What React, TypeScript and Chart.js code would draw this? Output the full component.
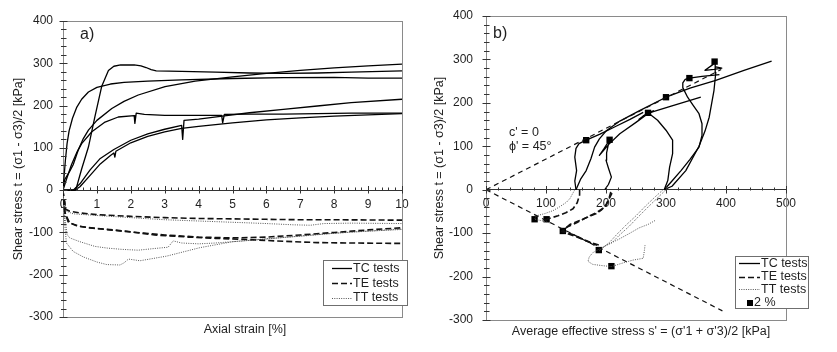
import React, { useEffect, useRef } from 'react';
import { Chart, registerables } from 'chart.js';

Chart.register(...registerables);

type Pt = [number, number];

const FAMILY = '"Liberation Sans", Arial, Helvetica, sans-serif';
const INK = '#1f1f1f';
const FRAME = '#8a8a8a';
const AXIS = '#333333';

// ---------------- a) shear stress vs axial strain ----------------
// TC tests (solid)
const tcFast: Pt[] = [[0,0],[0.03,30],[0.07,70],[0.12,110],[0.18,140],[0.28,170],[0.4,195],[0.55,215],[0.75,232],[1.0,243],[1.4,251],[1.8,255],[2.5,258],[3.5,261],[5,264],[6.5,266],[8,266.5],[9,265],[10,265]];
const tcPeak: Pt[] = [[0,0],[0.35,0],[0.4,7],[0.55,50],[0.75,102],[0.94,173],[1.14,245],[1.34,283],[1.5,293],[1.7,296],[2.1,296],[2.3,294],[2.45,290],[2.6,285],[2.75,282],[3.5,281],[4.5,279],[5.5,277],[6.5,276],[7.5,277],[8.5,279],[10,282]];
const tcRise: Pt[] = [[0,0],[0.05,25],[0.2,45],[0.3,60],[0.45,95],[0.6,122],[0.75,142],[1.0,165],[1.44,193],[1.8,210],[2.22,225],[3.01,245],[3.9,258],[5,268],[6,276],[7,283],[8,289],[9,294],[10,298]];
const tcPlateau: Pt[] = [[0,0],[0.1,25],[0.25,60],[0.4,88],[0.55,110],[0.85,138],[1.24,161],[1.63,173],[2.1,176],[2.12,158],[2.16,182],[2.4,179],[3.0,177],[3.5,177],[4.2,177],[4.68,177],[4.71,159],[4.76,179],[5.5,180],[6.5,180],[7.5,181],[8.5,182],[10,182]];
const tcLowA: Pt[] = [[0,0],[0.35,0],[0.5,8],[0.8,35],[1.1,62],[1.4,82],[1.5,88],[1.53,78],[1.56,92],[2.0,112],[2.5,127],[3.0,138],[3.5,146],[4.0,151],[5,159],[6,166],[7,171],[8,175],[9,178],[10,181]];
const tcLowB: Pt[] = [[0,0],[0.3,0],[0.5,15],[0.8,48],[1.1,75],[1.5,96],[2.0,118],[2.5,133],[3.0,144],[3.5,153],[3.53,120],[3.57,165],[4.0,168],[4.7,175],[5.5,183],[6.5,191],[7.5,199],[8.5,207],[10,215]];
// TE tests (dashed)
const teA1: Pt[] = [[0,0],[0.03,-30],[0.08,-45],[0.2,-50],[0.5,-54],[1,-58],[2,-62],[3,-65],[4,-67],[5,-68],[6,-69],[7,-70],[8,-70],[9,-70.5],[10,-71]];
const teA2: Pt[] = [[0,0],[0.05,-50],[0.15,-75],[0.4,-84],[0.75,-89],[1.2,-92],[1.75,-96],[2.7,-106],[3.7,-111],[4.5,-114],[5.5,-117],[6.5,-121],[7.5,-124],[8.5,-125],[10,-126]];
const teA3: Pt[] = [[0,0],[0.06,-55],[0.2,-78],[0.5,-86],[1,-91],[2,-99],[3,-106],[4,-111],[5,-113],[6,-111],[7,-106],[8,-100],[9,-94],[10,-89]];
// TT tests (dotted)
const ttA1: Pt[] = [[0,0],[0.03,-35],[0.1,-50],[0.3,-56],[1,-60],[2,-65],[3,-70],[4,-73],[5,-76],[6,-79],[6.8,-82],[7.3,-83],[7.7,-79],[8.5,-78],[10,-79]];
const ttA2: Pt[] = [[0,0],[0.05,-60],[0.12,-105],[0.2,-113],[0.5,-122],[0.94,-133],[1.3,-137],[1.73,-140],[2.22,-142],[2.7,-138],[3.1,-135],[3.25,-120],[3.5,-125],[4,-127],[4.5,-125],[5.5,-119],[6.5,-112],[7.5,-105],[8.5,-99],[10,-93]];
const ttA3: Pt[] = [[0,0],[0.05,-80],[0.1,-125],[0.3,-145],[0.6,-158],[1.0,-170],[1.29,-176],[1.68,-177],[1.8,-172],[1.93,-163],[2.27,-167],[3.06,-156],[4.04,-136],[5,-122],[6,-115],[7,-109],[8,-102],[9,-97],[10,-92]];

// ---------------- b) stress paths t vs s' ----------------
const envUpper: Pt[] = [[0,0],[392,277]];
const envLower: Pt[] = [[0,0],[394,-279]];
const pathTC1: Pt[] = [[297,0],[310,20],[325,44],[340,70],[355,98],[360,125],[360,152],[355,175],[345,195],[336,213],[328,235],[328,246],[332,254],[339,257],[360,261],[389,265]];
const pathTC2: Pt[] = [[297,0],[310,8],[333,44],[355,100],[365,135],[372,167],[380,229],[383,270],[382,295],[378,288],[365,275],[380,277],[393,280],[383,283]];
const pathTC3: Pt[] = [[150,0],[158,25],[167,44],[175,72],[181,98],[189,117],[200,135],[223,158],[256,182],[300,213],[340,234],[383,252],[430,275],[476,296]];
const pathTC4: Pt[] = [[297,0],[303,21],[306,52],[311,83],[311,114],[300,137],[286,160],[270,177],[255,162],[270,178],[278,181],[262,170],[280,182]];
const pathTC5: Pt[] = [[150,0],[148,20],[151,44],[148,75],[150,95],[155,106],[167,114],[190,128],[215,145],[240,162],[262,178]];
const pathTC6: Pt[] = [[198,0],[204,12],[209,29],[204,50],[200,68],[201,85],[203,98],[206,115],[197,95],[189,79],[205,105],[223,129],[250,155],[272,177],[310,193],[358,213]];
const pathTE1: Pt[] = [[156,0],[156,-12],[152,-30],[145,-44],[133,-53],[120,-60],[101,-68],[95,-69]];
const pathTE2: Pt[] = [[208,-5],[205,-20],[200,-36],[192,-47],[184,-55],[170,-63],[156,-71],[140,-80],[128,-95],[150,-106],[170,-120],[185,-128]];
const pathTE3: Pt[] = [[210,-8],[198,-40],[185,-52],[170,-62],[151,-76],[135,-86],[126,-96],[150,-108],[175,-122],[190,-128]];
const pathTT1: Pt[] = [[148,0],[140,-20],[134,-29],[122,-40],[112,-48],[98,-55],[84,-60],[81,-68],[95,-72],[110,-78]];
const pathTT2: Pt[] = [[297,2],[283,-15],[267,-36],[250,-60],[233,-82],[220,-100],[206,-121],[189,-140],[200,-128],[220,-115],[240,-100],[255,-88],[270,-80],[283,-70]];
const pathTT3: Pt[] = [[300,0],[285,-20],[270,-40],[252,-65],[238,-85],[222,-105],[210,-122],[195,-132],[178,-145],[172,-155],[170,-165],[178,-172],[195,-175],[209,-177],[225,-170],[245,-162],[262,-158],[264,-140],[265,-128]];
const squares2pct: Pt[] = [[167,114],[206,115],[270,177],[300,213],[339,257],[381,295],[81,-68],[101,-68],[128,-95],[188,-139],[209,-176]];

const styleOf: Record<string, any> = {
  tc: { borderColor: '#000000', borderWidth: 1.3, borderDash: [] },
  te: { borderColor: '#111111', borderWidth: 1.6, borderDash: [6, 3] },
  tt: { borderColor: '#555555', borderWidth: 1, borderDash: [1, 1.3] },
  env: { borderColor: '#111111', borderWidth: 1.2, borderDash: [5, 4] },
};

function lineDs(label: string, pts: Pt[], kind: string) {
  return {
    label,
    data: pts.map(([x, y]) => ({ x, y })),
    showLine: true,
    pointRadius: 0,
    pointHoverRadius: 0,
    fill: false,
    tension: 0,
    borderJoinStyle: 'round',
    ...styleOf[kind],
  };
}

function ticksBetween(a: number, b: number, step: number) {
  const out: number[] = [];
  const n = Math.round((b - a) / step);
  for (let i = 0; i <= n; i++) out.push(+(a + i * step).toFixed(6));
  return out;
}

const isMultiple = (v: number, m: number) => Math.abs(v / m - Math.round(v / m)) < 1e-6;

interface Row { label: string; kind: string; y: number }
interface DecorSpec {
  xMinor: number; xMajor: number; yMinor: number; yMajor: number;
  legend: { x: number; y: number; w: number; h: number; lx0: number; lx1: number; tx: number; rows: Row[] };
  texts: { t: string; x: number; y: number; size: number; align?: CanvasTextAlign }[];
}

function makeDecor(spec: DecorSpec) {
  return {
    id: 'decor',
    beforeDatasetsDraw(chart: any) {
      const { ctx, chartArea: ca } = chart;
      ctx.save();
      ctx.strokeStyle = FRAME;
      ctx.lineWidth = 1;
      ctx.strokeRect(Math.round(ca.left) + 0.5, Math.round(ca.top) + 0.5, Math.round(ca.right - ca.left), Math.round(ca.bottom - ca.top));
      ctx.restore();
    },
    afterDraw(chart: any) {
      const { ctx, chartArea: ca } = chart;
      const xs = chart.scales.x;
      const ys = chart.scales.y;
      ctx.save();
      // tick marks
      ctx.strokeStyle = AXIS;
      ctx.lineWidth = 1;
      ctx.setLineDash([]);
      ctx.beginPath();
      const ax = Math.round(ca.left) + 0.5;
      for (const v of ticksBetween(ys.min, ys.max, spec.yMinor)) {
        const py = Math.round(ys.getPixelForValue(v)) + 0.5;
        const major = isMultiple(v, spec.yMajor);
        ctx.moveTo(ax - (major ? 4 : 2.5), py);
        ctx.lineTo(ax + (major ? 4 : 3), py);
      }
      const ay = Math.round(ys.getPixelForValue(0)) + 0.5;
      for (const v of ticksBetween(xs.min, xs.max, spec.xMinor)) {
        const px = Math.round(xs.getPixelForValue(v)) + 0.5;
        const major = isMultiple(v, spec.xMajor);
        ctx.moveTo(px, ay - (major ? 4.5 : 3));
        ctx.lineTo(px, ay + (major ? 3 : 0));
      }
      ctx.stroke();

      // legend
      const L = spec.legend;
      ctx.fillStyle = '#ffffff';
      ctx.fillRect(L.x, L.y, L.w, L.h);
      ctx.strokeStyle = '#6f6f6f';
      ctx.strokeRect(L.x + 0.5, L.y + 0.5, L.w, L.h);
      ctx.font = `12.5px ${FAMILY}`;
      ctx.textBaseline = 'middle';
      ctx.textAlign = 'left';
      for (const r of L.rows) {
        if (r.kind === 'square') {
          ctx.fillStyle = '#000';
          ctx.fillRect(Math.round((L.lx0 + L.lx1) / 2) - 3, Math.round(r.y) - 3, 6, 6);
          ctx.fillStyle = INK;
          ctx.fillText(r.label, L.tx - 7, r.y);
          continue;
        }
        const st = styleOf[r.kind];
        ctx.strokeStyle = st.borderColor;
        ctx.lineWidth = st.borderWidth;
        ctx.setLineDash(st.borderDash);
        ctx.beginPath();
        ctx.moveTo(L.lx0, Math.round(r.y) + 0.5);
        ctx.lineTo(L.lx1, Math.round(r.y) + 0.5);
        ctx.stroke();
        ctx.setLineDash([]);
        ctx.fillStyle = INK;
        ctx.fillText(r.label, L.tx, r.y);
      }

      // free texts
      for (const t of spec.texts) {
        ctx.font = `${t.size}px ${FAMILY}`;
        ctx.fillStyle = INK;
        ctx.textAlign = t.align || 'left';
        ctx.textBaseline = 'middle';
        ctx.fillText(t.t, t.x, t.y);
      }
      ctx.restore();
    },
  };
}

function makeConfig(opts: {
  datasets: any[]; xMin: number; xMax: number; xStep: number; yWidth: number;
  padding: any; yTitlePad: number; yLabelPad: number; decor: DecorSpec;
}) {
  const tickFont = { family: FAMILY, size: 12 };
  return {
    type: 'scatter' as const,
    data: { datasets: opts.datasets },
    options: {
      animation: false as const,
      responsive: false,
      devicePixelRatio: 1,
      events: [],
      layout: { padding: opts.padding },
      scales: {
        x: {
          type: 'linear' as const,
          min: opts.xMin,
          max: opts.xMax,
          position: { y: 0 },
          ticks: { stepSize: opts.xStep, autoSkip: false, maxRotation: 0, font: tickFont, color: INK, padding: 3 },
          grid: { display: false, tickLength: 4 },
          border: { display: true, color: AXIS, width: 1 },
        },
        y: {
          type: 'linear' as const,
          min: -300,
          max: 400,
          position: 'left' as const,
          afterFit: (s: any) => { s.width = opts.yWidth; },
          ticks: {
            stepSize: 20,
            autoSkip: false,
            font: tickFont,
            color: INK,
            padding: opts.yLabelPad,
            callback: (v: any) => (isMultiple(Number(v), 100) ? String(v) : ''),
          },
          grid: { display: false, tickLength: 6 },
          border: { display: true, color: AXIS, width: 1 },
          title: {
            display: true,
            text: 'Shear stress t = (σ1 - σ3)/2 [kPa]',
            font: { family: FAMILY, size: 12.5 },
            color: INK,
            padding: { top: opts.yTitlePad, bottom: 0 },
          },
        },
      },
      plugins: { legend: { display: false }, tooltip: { enabled: false } },
    },
    plugins: [makeDecor(opts.decor)],
  };
}

function configA() {
  const datasets = [
    lineDs('TC tests', tcFast, 'tc'),
    lineDs('TC tests', tcPeak, 'tc'),
    lineDs('TC tests', tcRise, 'tc'),
    lineDs('TC tests', tcPlateau, 'tc'),
    lineDs('TC tests', tcLowA, 'tc'),
    lineDs('TC tests', tcLowB, 'tc'),
    lineDs('TE tests', teA1, 'te'),
    lineDs('TE tests', teA2, 'te'),
    lineDs('TE tests', teA3, 'te'),
    lineDs('TT tests', ttA1, 'tt'),
    lineDs('TT tests', ttA2, 'tt'),
    lineDs('TT tests', ttA3, 'tt'),
  ];
  return makeConfig({
    datasets, xMin: 0, xMax: 10, xStep: 1, yWidth: 63,
    padding: { left: 0, right: 18, top: 21, bottom: 35 },
    yTitlePad: 11, yLabelPad: 4,
    decor: {
      xMinor: 0.2, xMajor: 1, yMinor: 20, yMajor: 100,
      legend: {
        x: 323, y: 260, w: 84, h: 45, lx0: 332, lx1: 352, tx: 353,
        rows: [
          { label: 'TC tests', kind: 'tc', y: 268.3 },
          { label: 'TE tests', kind: 'te', y: 283.3 },
          { label: 'TT tests', kind: 'tt', y: 297.7 },
        ],
      },
      texts: [
        { t: 'a)', x: 80, y: 35, size: 16 },
        { t: 'Axial strain [%]', x: 245, y: 330, size: 12.5, align: 'center' },
      ],
    },
  });
}

function configB() {
  const datasets = [
    lineDs('c\' = 0, ϕ\' = 45°', envUpper, 'env'),
    lineDs('c\' = 0, ϕ\' = 45°', envLower, 'env'),
    lineDs('TC tests', pathTC1, 'tc'),
    lineDs('TC tests', pathTC2, 'tc'),
    lineDs('TC tests', pathTC3, 'tc'),
    lineDs('TC tests', pathTC4, 'tc'),
    lineDs('TC tests', pathTC5, 'tc'),
    lineDs('TC tests', pathTC6, 'tc'),
    lineDs('TE tests', pathTE1, 'te'),
    lineDs('TE tests', pathTE2, 'te'),
    lineDs('TE tests', pathTE3, 'te'),
    lineDs('TT tests', pathTT1, 'tt'),
    lineDs('TT tests', pathTT2, 'tt'),
    lineDs('TT tests', pathTT3, 'tt'),
    {
      label: '2 %',
      data: squares2pct.map(([x, y]) => ({ x, y })),
      showLine: false,
      pointStyle: 'rect',
      pointRadius: 4.5,
      pointHoverRadius: 4.5,
      backgroundColor: '#000',
      borderColor: '#000',
      borderWidth: 0,
    },
  ];
  return makeConfig({
    datasets, xMin: 0, xMax: 500, xStep: 100, yWidth: 66,
    padding: { left: 0, right: 51, top: 16, bottom: 32 },
    yTitlePad: 12.5, yLabelPad: 7,
    decor: {
      xMinor: 20, xMajor: 100, yMinor: 20, yMajor: 100,
      legend: {
        x: 315, y: 256, w: 73, h: 52, lx0: 319, lx1: 340, tx: 341,
        rows: [
          { label: 'TC tests', kind: 'tc', y: 263.3 },
          { label: 'TE tests', kind: 'te', y: 276.7 },
          { label: 'TT tests', kind: 'tt', y: 289.3 },
          { label: '2 %', kind: 'square', y: 302.7 },
        ],
      },
      texts: [
        { t: 'b)', x: 73, y: 34, size: 16 },
        { t: 'c\' = 0', x: 89, y: 132.5, size: 12.5 },
        { t: 'ϕ\' = 45°', x: 89, y: 147, size: 12.5 },
        { t: 'Average effective stress s\' = (σ\'1 + σ\'3)/2 [kPa]', x: 221, y: 331.5, size: 12.5, align: 'center' },
      ],
    },
  });
}

export default function App() {
  const leftRef = useRef<HTMLCanvasElement>(null);
  const rightRef = useRef<HTMLCanvasElement>(null);
  useEffect(() => {
    const c1 = new Chart(leftRef.current as HTMLCanvasElement, configA() as any);
    const c2 = new Chart(rightRef.current as HTMLCanvasElement, configB() as any);
    return () => {
      c1.destroy();
      c2.destroy();
    };
  }, []);
  return (
    <div style={{ position: 'absolute', left: 0, top: 0, width: 837, height: 352, background: '#ffffff', overflow: 'hidden' }}>
      <canvas ref={leftRef} width={420} height={352} style={{ position: 'absolute', left: 0, top: 0, width: 420, height: 352 }} />
      <canvas ref={rightRef} width={417} height={352} style={{ position: 'absolute', left: 420, top: 0, width: 417, height: 352 }} />
    </div>
  );
}
